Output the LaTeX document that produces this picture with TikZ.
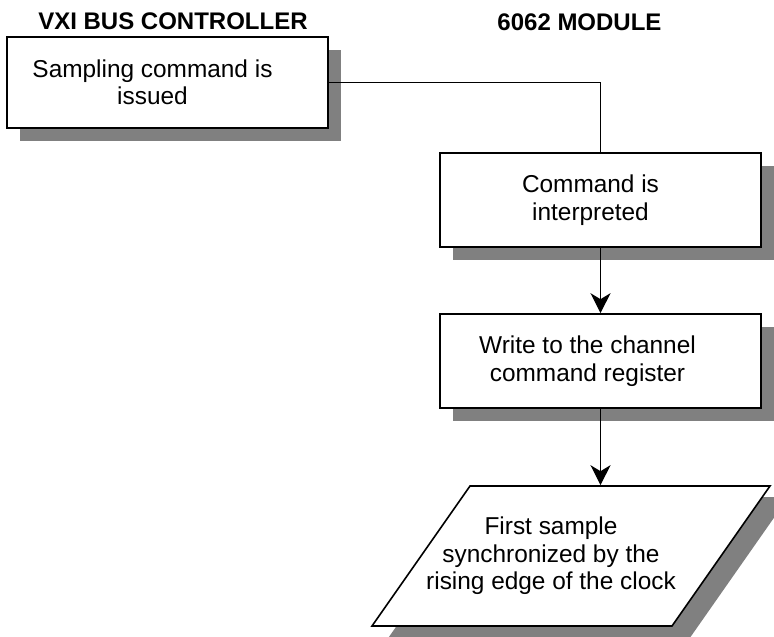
\documentclass[tikz,border=0pt]{standalone}
\usepackage{fontspec}
\setmainfont{Liberation Sans}
\usetikzlibrary{arrows.meta,shadows,backgrounds}
\definecolor{shadowgray}{RGB}{128,128,128}

\begin{document}
\begin{tikzpicture}[x=1pt,y=-1pt,
  box/.style={draw=black,line width=1.6pt,fill=white,inner sep=0pt},
  procbox/.style={box,rectangle,minimum width=321pt,minimum height=94pt,
    drop shadow={shadow xshift=12.5pt,shadow yshift=-12.5pt,fill=shadowgray,opacity=1}},
  txt/.style={align=center,font=\fontsize{24.4}{27.5}\selectfont,inner sep=0pt},
  head/.style={font=\bfseries\fontsize{24}{28}\selectfont,inner sep=0pt},
  link/.style={line width=1.3pt},
  flow/.style={link,-{Stealth[length=20pt,width=20pt,inset=6pt]}}]
  \useasboundingbox (0,0) rectangle (774,637);

  % column headings
  \node[head] (h1) at (173,21.5) {VXI BUS CONTROLLER};
  \node[head] (h2) at (579.5,22) {6062 MODULE};

  % process boxes
  \node[procbox,minimum height=91pt] (b1) at (167.5,82.5) {};
  \node[txt] (t1) at ([xshift=-15pt]b1.center) {Sampling command is\\issued};

  \node[procbox] (b2) at (600.5,200) {};
  \node[txt] (t2) at ([xshift=-10pt]b2.center) {Command is\\interpreted};

  \node[procbox] (b3) at (600.5,361) {};
  \node[txt] (t3) at ([xshift=-13pt]b3.center) {Write to the channel\\command register};

  % data box: a slanted rectangle (parallelogram)
  \begin{scope}[shift={(571,556)},xslant=0.7]
    \node[box,rectangle,minimum width=300pt,minimum height=140pt,transform shape] (p) at (0,0) {};
  \end{scope}
  \begin{scope}[on background layer]
    \fill[shadowgray] ([shift={(17pt,-12pt)}]p.north west) -- ([shift={(17pt,-12pt)}]p.north east)
      -- ([shift={(17pt,-12pt)}]p.south east) -- ([shift={(17pt,-12pt)}]p.south west) -- cycle;
  \end{scope}
  \node[txt] (t4) at ([xshift=-20pt]p.center) {First sample\\synchronized by the\\rising edge of the clock};

  % connectors
  \draw[link] (b1.east) -| (b2.north);
  \draw[flow] (b2.south) -- (b3.north);
  \draw[flow] (b3.south) -- (b3.south |- p.north);
\end{tikzpicture}
\end{document}
